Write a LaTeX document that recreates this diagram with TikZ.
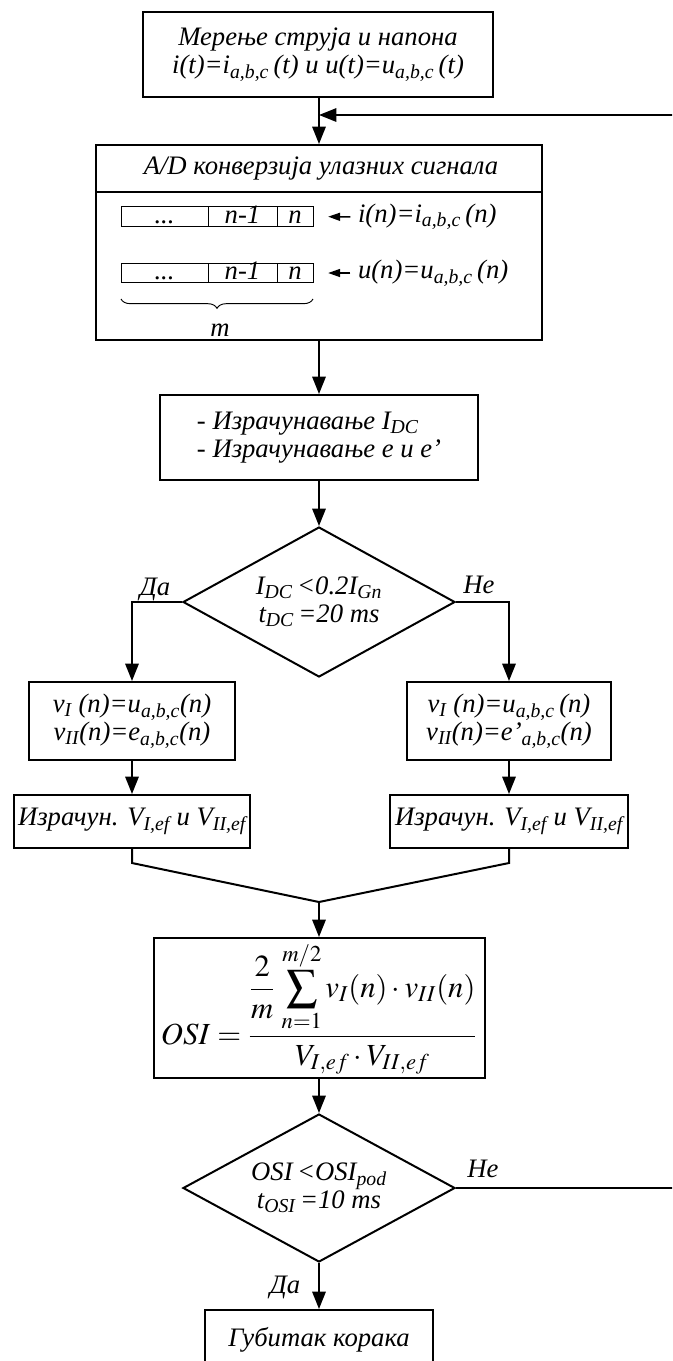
\documentclass[tikz,border=0pt]{standalone}
\usepackage{mathptmx}
\usepackage[no-math]{fontspec}
\setmainfont{Liberation Serif}
\usetikzlibrary{shapes.geometric,arrows.meta,decorations.pathreplacing,calc}
\newcommand{\sbs}[1]{\textsubscript{#1}}
\begin{document}
\begin{tikzpicture}[x=0.75pt,y=-0.75pt,
  font=\fontsize{20}{21}\selectfont\itshape,
  line width=1.5pt,
  box/.style={draw, rectangle, inner sep=0pt, align=center},
  dec/.style={draw, diamond, aspect=1.8, inner sep=0pt, align=center},
  cell/.style={draw, line width=0.7pt, inner sep=0pt, minimum height=14.6pt, text height=11pt, text depth=1pt},
  arr/.style={-{Triangle[length=13pt,width=10pt]}},
  lbl/.style={inner sep=0pt}]
\clip (0,0) rectangle (672,1361);

% main column
\node[box, minimum width=262.5pt, minimum height=63.75pt] (meas) at (318,54.5)
  {Мерење струја и напона\\ i(t)=i\sbs{a,b,c}\,(t) и u(t)=u\sbs{a,b,c}\,(t)};
\node[box, minimum width=334.5pt, minimum height=146.25pt] (ad) at (319,242.5) {};
\coordinate (hl) at (0,192);
\draw (ad.west |- hl) -- (ad.east |- hl);
\node[lbl] (adt) at (321,169) {A/D конверзија улазних сигнала};

\node[cell, minimum width=65.25pt] (r1a) at (164.5,216.5) {...};
\node[cell, minimum width=51.75pt] (r1b) at (242.5,216.5) {n-1};
\node[cell, minimum width=27pt] (r1c) at (295,216.5) {n};
\node[cell, minimum width=65.25pt] (r2a) at (164.5,273) {...};
\node[cell, minimum width=51.75pt] (r2b) at (242.5,273) {n-1};
\node[cell, minimum width=27pt] (r2c) at (295,273) {n};
\node[lbl, anchor=west] (isig) at (357,217) {i(n)=i\sbs{a,b,c}\,(n)};
\node[lbl, anchor=west] (usig) at (357,273) {u(n)=u\sbs{a,b,c}\,(n)};
\draw[line width=1.2pt, -{Triangle[length=9pt,width=6pt]}, shorten <=5pt, shorten >=11pt] (isig.west) -- (r1c.east);
\draw[line width=1.2pt, -{Triangle[length=9pt,width=6pt]}, shorten <=5pt, shorten >=11pt] (usig.west) -- (r2c.east);
\draw[line width=0.7pt, decorate, decoration={brace,mirror,amplitude=7pt}] (121,299) -- (313,299);
\node[lbl] (mlab) at (220,330) {m};

\node[box, minimum width=238pt, minimum height=63.75pt, align=left] (idc) at (319,437.5)
  {- Израчунавање I\sbs{DC}\\- Израчунавање e и e’};

\node[dec, minimum width=204pt, minimum height=112.5pt] (d1) at (319,602)
  {I\sbs{DC}\,<0.2I\sbs{Gn}\\t\sbs{DC}\,=20 ms};

% branches
\node[box, minimum width=154.5pt, minimum height=58.5pt] (lb1) at (132,721)
  {v\sbs{I} (n)=u\sbs{a,b,c}(n)\\v\sbs{II}(n)=e\sbs{a,b,c}(n)};
\node[box, minimum width=177pt, minimum height=39.75pt] (lb2) at (132,821.5)
  {Израчун. V\sbs{I,ef} и V\sbs{II,ef}};
\node[box, minimum width=153pt, minimum height=58.5pt] (rb1) at (509,721)
  {v\sbs{I} (n)=u\sbs{a,b,c}\,(n)\\v\sbs{II}(n)=e’\sbs{a,b,c}(n)};
\node[box, minimum width=178.5pt, minimum height=39.75pt] (rb2) at (509,821.5)
  {Израчун. V\sbs{I,ef} и V\sbs{II,ef}};

\node[box, minimum width=248.25pt, minimum height=105pt, font=\fontsize{23}{26}\selectfont] (osi) at (319,1008)
  {$\displaystyle OSI=\frac{{\displaystyle\frac{2}{m}}\,\displaystyle\sum_{n=1}^{m/2}v_I(n)\cdot v_{II}(n)}{V_{I,ef}\cdot V_{II,ef}}$};

\node[dec, minimum width=204pt, minimum height=111pt] (d2) at (319,1188)
  {OSI\,<OSI\sbs{pod}\\t\sbs{OSI}\,=10 ms};
\node[box, minimum width=171pt, minimum height=45pt] (lost) at (319,1340) {Губитак корака};

% labels
\node[lbl, anchor=base] (da1) at (155,595) {Да};
\node[lbl, anchor=base] (ne1) at (479,593) {Не};
\node[lbl, anchor=base] (ne2) at (483,1177) {Не};
\node[lbl, anchor=base] (da2) at (285,1293) {Да};

% connectors
\coordinate (join) at (319,115);
\coordinate (fbR) at (676,1188);
\coordinate (fbT) at (676,115);
\coordinate (mg) at (319,902);
\draw[arr] (meas.south -| ad.north) -- (ad.north);
\draw[arr] (fbR |- d2.east) -- (fbT) -- (join);
\draw (d2.east) -- (fbR |- d2.east);
\draw[arr] (ad.south) -- (idc.north);
\draw[arr] (idc.south) -- (d1.north);
\draw[arr] (d1.west) -| (lb1.north);
\draw[arr] (d1.east) -| (rb1.north);
\draw[arr] (lb1.south) -- (lb2.north);
\draw[arr] (rb1.south) -- (rb2.north);
\draw (lb2.south) -- ++(0,14) -- (mg);
\draw (rb2.south) -- ++(0,14) -- (mg);
\draw[arr] (mg) -- (osi.north);
\draw[arr] (osi.south) -- (d2.north);
\draw[arr] (d2.south) -- (lost.north);
\end{tikzpicture}
\end{document}
